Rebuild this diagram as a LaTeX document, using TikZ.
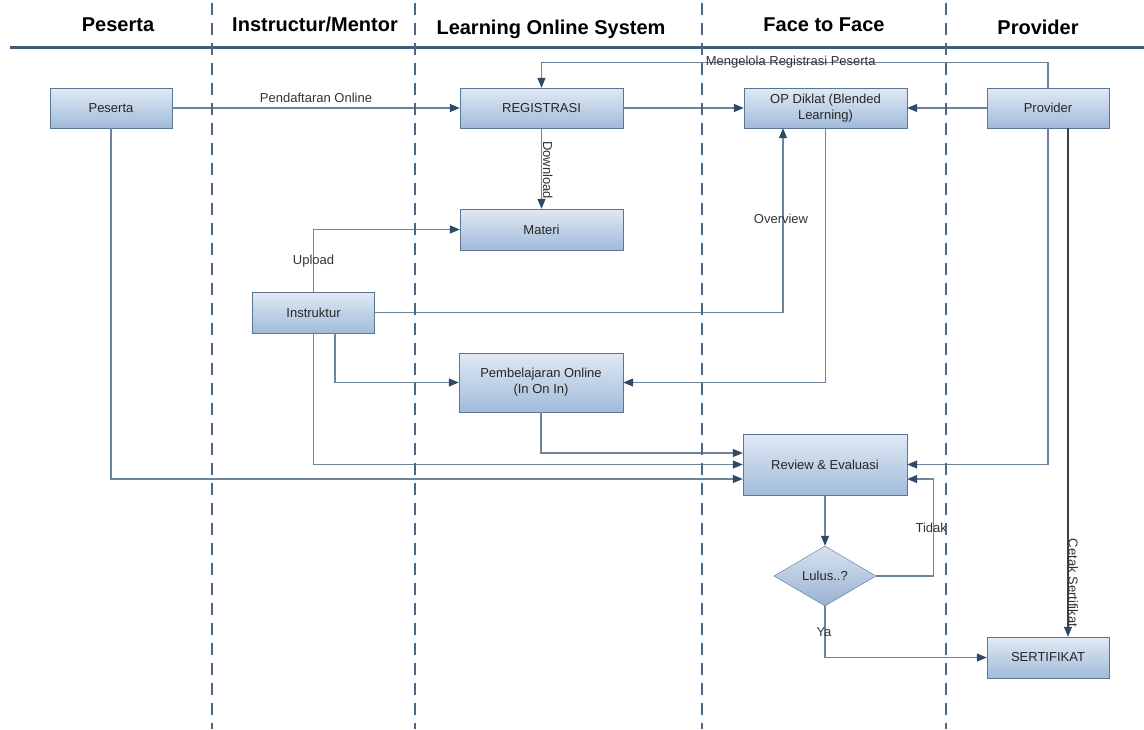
\documentclass[tikz,border=0pt]{standalone}
\usepackage{fontspec}
\setmainfont{Liberation Sans}
\usetikzlibrary{arrows.meta,positioning,shapes.geometric}
\definecolor{lanecol}{HTML}{4A6889}
\definecolor{headcol}{HTML}{3E5C7C}
\definecolor{linecol}{HTML}{6F8499}
\definecolor{tipcol}{HTML}{2E4A6B}
\definecolor{boxtop}{HTML}{E1E9F4}
\definecolor{boxbot}{HTML}{A1BBDA}
\definecolor{boxline}{HTML}{5A7696}

\begin{document}
\begin{tikzpicture}[
    x=1pt,y=-1pt,
    box/.style={draw=boxline,top color=boxtop,bottom color=boxbot,minimum width=122pt,minimum height=40pt,align=center,text=black!85,font=\fontsize{13}{16}\selectfont},
    wide/.style={box,minimum width=163pt},
    decision/.style={diamond,draw=boxline,top color=boxtop!85!boxbot,bottom color=boxbot!95!black,minimum width=102pt,minimum height=60pt,inner sep=0pt,text=black!85,font=\fontsize{13}{16}\selectfont},
    arrow/.style={linecol,line width=1.1pt,-{Triangle[length=10pt,width=8pt,color=tipcol]}},
    lbl/.style={text=black!80,inner sep=0pt,font=\fontsize{13}{15}\selectfont},
    head/.style={anchor=base,font=\fontsize{20}{22}\selectfont\bfseries},
    lane/.style={lanecol,line width=2.5pt,dash pattern=on 12pt off 8pt}
  ]
    \useasboundingbox (0,0) rectangle (1144,729);

    % lane titles
    \node[head] (hpeserta) at (118,31) {Peserta};
    \node[head] (hmentor) at (315,31) {Instructur/Mentor};
    \node[head] (hlos) at (551,34) {Learning Online System};
    \node[head] (hftf) at (824,31) {Face to Face};
    \node[head] (hprovider) at (1038,34) {Provider};
    \draw[headcol,line width=3pt] (10,47) -- (1144,47);

    % process boxes
    \node[box] (peserta) at (111,108) {Peserta};
    \node[wide] (regis) at (541.5,108) {REGISTRASI};
    \node[wide] (opdiklat) at (825.5,108) {OP Diklat (Blended\\Learning)};
    \node[box] (provider) at (1048,108) {Provider};
    \node[wide,minimum height=41pt] (materi) at (541.5,229.5) {Materi};
    \node[box,minimum height=41pt] (instruktur) at (313.5,312.5) {Instruktur};
    \node[wide,minimum width=164pt,minimum height=59pt] (pembel) at (541,382.5) {Pembelajaran Online\\(In On In)};
    \node[wide,minimum width=164pt,minimum height=61pt] (review) at (825,464.5) {Review \& Evaluasi};
    \node[decision] (lulus) at (825,576) {Lulus..?};
    \node[box,minimum height=41pt] (sertifikat) at (1048,657.5) {SERTIFIKAT};

    % connectors
    \draw[arrow] (peserta) -- node[lbl,above=5pt] (lpend) {Pendaftaran Online} (regis);
    \draw[arrow] (regis) -- (opdiklat);
    \draw[arrow] (provider) -- (opdiklat);
    \draw[arrow] (provider.north) -- ++(0,-25) -| node[lbl,pos=0.254,yshift=1pt] (lkelola) {Mengelola Registrasi Peserta} (regis.north);
    \draw[arrow] (regis) -- node[lbl,pos=0.52,rotate=-90,anchor=south,inner sep=1pt] (ldown) {Download} (materi);
    \draw[arrow] (instruktur.north) |- node[lbl,pos=0.25] (lup) {Upload} (materi.west);
    \draw[arrow] (instruktur.east) -| node[lbl,pos=0.753,xshift=-2pt] (lover) {Overview} ([xshift=-42.5pt]opdiklat.south);
    \draw[arrow] ([xshift=21.5pt]instruktur.south) |- (pembel.west);
    \draw[arrow] (opdiklat.south) |- (pembel.east);
    \draw[arrow] (pembel.south) |- ([yshift=11.5pt]review.west);
    \draw[arrow] (instruktur.south) |- (review.west);
    \draw[arrow] (peserta.south) |- ([yshift=-14.5pt]review.west);
    \draw[arrow] (provider.south) |- (review.east);
    \draw[arrow,draw=black!75] ([xshift=20pt]provider.south) -- node[lbl,pos=0.894,rotate=-90,anchor=south] (lcetak) {Cetak Sertifikat} ([xshift=20pt]sertifikat.north);
    \draw[arrow] (review) -- (lulus);
    \draw[arrow] (lulus.east) -- ++(57,0) |- node[lbl,pos=0.25,xshift=-2pt] (ltidak) {Tidak} ([yshift=-14.5pt]review.east);
    \draw[arrow] (lulus.south) |- node[lbl,pos=0.25,xshift=-1pt] (lya) {Ya} (sertifikat.west);

    % swimlane separators
    \foreach \lx in {212,415,702,946}
      \draw[lane] (\lx,3) -- (\lx,729);
  \end{tikzpicture}
\end{document}
